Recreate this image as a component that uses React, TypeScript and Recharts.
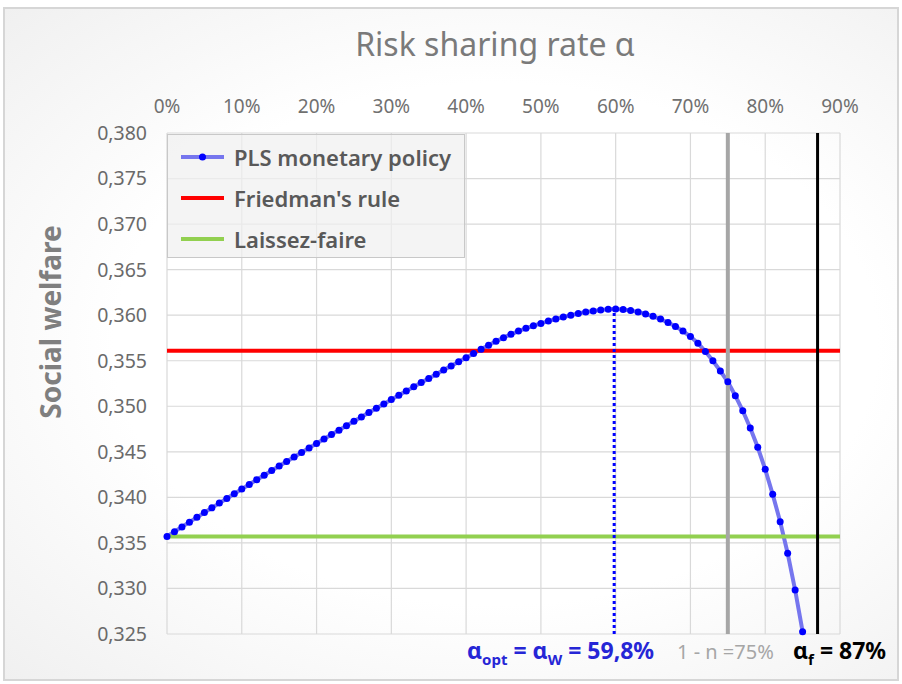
import React from 'react';
import { LineChart, Line, XAxis, YAxis, CartesianGrid, ReferenceLine, Legend } from 'recharts';

const FONT = '"Noto Sans", "Open Sans", sans-serif';

const xTicks = [0, 10, 20, 30, 40, 50, 60, 70, 80, 90];
const yTicks = [0.325, 0.33, 0.335, 0.34, 0.345, 0.35, 0.355, 0.36, 0.365, 0.37, 0.375, 0.38];

// PLS monetary policy social welfare, one value per 1% of alpha (0% .. 85%)
const plsWelfare = [
  0.3357, 0.33623, 0.33676, 0.33728, 0.33781, 0.33833, 0.33885, 0.33937, 0.33988, 0.3404,
  0.34091, 0.34142, 0.34193, 0.34243, 0.34294, 0.34344, 0.34394, 0.34444, 0.34493, 0.34543,
  0.34592, 0.34641, 0.3469, 0.34738, 0.34787, 0.34835, 0.34883, 0.34931, 0.34978, 0.35026,
  0.35073, 0.3512, 0.35167, 0.35213, 0.3526, 0.35306, 0.35352, 0.35398, 0.35443, 0.35489,
  0.35534, 0.35578, 0.35625, 0.3567, 0.35713, 0.35753, 0.3579, 0.35825, 0.35856, 0.35884,
  0.3591, 0.35935, 0.35958, 0.3598, 0.36, 0.36018, 0.36034, 0.36047, 0.36057, 0.36064,
  0.36067, 0.36062, 0.36052, 0.36036, 0.36013, 0.35988, 0.35957, 0.3592, 0.35877, 0.35826,
  0.35765, 0.35692, 0.35602, 0.355, 0.35387, 0.35268, 0.35116, 0.34951, 0.34761, 0.3455,
  0.34308, 0.34033, 0.33733, 0.33386, 0.32983, 0.32525,
];
const alphaGrid = [
  0, 1, 2, 3, 4, 5, 6, 7, 8, 9, 10, 11, 12, 13, 14, 15, 16, 17, 18, 19, 20, 21, 22, 23, 24, 25, 26, 27, 28, 29,
  30, 31, 32, 33, 34, 35, 36, 37, 38, 39, 40, 41, 42, 43, 44, 45, 46, 47, 48, 49, 50, 51, 52, 53, 54, 55, 56, 57, 58, 59,
  60, 61, 62, 63, 64, 65, 66, 67, 68, 69, 70, 71, 72, 73, 74, 75, 76, 77, 78, 79, 80, 81, 82, 83, 84, 85, 86, 87, 88, 89, 90,
];
const friedmanRule = 0.3561;
const laissezFaire = 0.3357;
const alphaOpt = 59.8;
const welfareAtOpt = 0.36067;
const oneMinusN = 75;
const alphaF = 87;

const data = alphaGrid.map((a, i) => ({
  alpha: a,
  pls: i < plsWelfare.length ? plsWelfare[i] : undefined,
  friedman: friedmanRule,
  laissez: laissezFaire,
}));

const legendRows = [
  { label: 'PLS monetary policy', color: '#7676ee', dot: true },
  { label: "Friedman's rule", color: '#ff0000', dot: false },
  { label: 'Laissez-faire', color: '#92d050', dot: false },
];

function LegendBox() {
  return (
    <div
      style={{
        width: 298,
        height: 124,
        boxSizing: 'border-box',
        border: '1.5px solid #c8c8c8',
        background: 'rgba(240,240,240,0.72)',
        fontFamily: FONT,
        paddingTop: 1,
      }}
    >
      {legendRows.map((r) => (
        <div key={r.label} style={{ height: 41, display: 'flex', alignItems: 'center' }}>
          <svg width={66} height={20} style={{ flex: 'none' }}>
            <line x1={13} x2={56} y1={10} y2={10} stroke={r.color} strokeWidth={4} />
            {r.dot ? <circle cx={34.5} cy={10} r={3.5} fill="#0000ff" /> : null}
          </svg>
          <span style={{ fontSize: 22, fontWeight: 600, color: '#595959', whiteSpace: 'nowrap' }}>{r.label}</span>
        </div>
      ))}
    </div>
  );
}

export default function App() {
  return (
    <div
      style={{
        position: 'absolute',
        left: 0,
        top: 0,
        width: 902,
        height: 684,
        background: '#ffffff',
        overflow: 'hidden',
      }}
    >
      <div
        style={{
          position: 'absolute',
          left: 3,
          top: 7,
          width: 896,
          height: 674,
          boxSizing: 'border-box',
          border: '2px solid #d6d6d6',
          background: 'radial-gradient(ellipse at 55% 50%, #ffffff 55%, #f0f0f0 100%)',
        }}
      />
      <div style={{ position: 'absolute', left: 0, top: 0 }}>
        <LineChart
          width={902}
          height={684}
          data={data}
          margin={{ top: 103, right: 62, bottom: 50, left: 87 }}
        >
          <CartesianGrid stroke="#d9d9d9" strokeWidth={1.2} />
          <XAxis
            dataKey="alpha"
            type="number"
            orientation="top"
            domain={[0, 90]}
            ticks={xTicks}
            height={30}
            tickLine={false}
            axisLine={false}
            tickMargin={14}
            tickFormatter={(v) => `${v}%`}
            tick={{ fill: '#707070', fontSize: 19, fontFamily: FONT }}
          />
          <YAxis
            type="number"
            domain={[0.325, 0.38]}
            ticks={yTicks}
            width={80}
            tickLine={false}
            axisLine={false}
            tickMargin={14}
            tickFormatter={(v) => v.toFixed(3).replace('.', ',')}
            tick={{ fill: '#6a6a6a', fontSize: 19.5, fontFamily: FONT }}
          />
          <Line
            dataKey="pls"
            name="PLS monetary policy"
            stroke="#7676ee"
            strokeWidth={4}
            dot={{ r: 3.5, fill: '#0000ff', stroke: 'none' }}
            isAnimationActive={false}
          />
          <Line
            dataKey="friedman"
            name="Friedman's rule"
            stroke="#ff0000"
            strokeWidth={4}
            dot={false}
            isAnimationActive={false}
          />
          <Line
            dataKey="laissez"
            name="Laissez-faire"
            stroke="#92d050"
            strokeWidth={4}
            dot={false}
            isAnimationActive={false}
          />
          <ReferenceLine
            segment={[
              { x: alphaOpt, y: 0.325 },
              { x: alphaOpt, y: welfareAtOpt },
            ]}
            stroke="#0000ff"
            strokeWidth={3}
            strokeDasharray="3 3"
          />
          <ReferenceLine x={oneMinusN} stroke="#a6a6a6" strokeWidth={4} />
          <ReferenceLine x={alphaF} stroke="#000000" strokeWidth={3} />
          <Legend
            layout="vertical"
            align="center"
            verticalAlign="middle"
            content={() => <LegendBox />}
            wrapperStyle={{ left: 167, top: 134, width: 298, height: 124 }}
          />
        </LineChart>
      </div>
      <div
        style={{
          position: 'absolute',
          left: 0,
          width: 990,
          top: 22,
          textAlign: 'center',
          fontFamily: FONT,
          fontSize: 32,
          color: '#7a7a7a',
          whiteSpace: 'nowrap',
        }}
      >
        Risk sharing rate α
      </div>
      <div
        style={{
          position: 'absolute',
          left: 50,
          top: 322,
          transform: 'translate(-50%, -50%) rotate(-90deg)',
          fontFamily: FONT,
          fontSize: 28,
          fontWeight: 700,
          color: '#7f7f7f',
          whiteSpace: 'nowrap',
        }}
      >
        Social welfare
      </div>
      <div
        style={{
          position: 'absolute',
          left: 467,
          top: 634,
          fontFamily: FONT,
          fontSize: 23,
          fontWeight: 700,
          color: '#2626d6',
          whiteSpace: 'nowrap',
        }}
      >
        α<sub style={{ fontSize: 15 }}>opt</sub> = α<sub style={{ fontSize: 15 }}>W</sub> = 59,8%
      </div>
      <div
        style={{
          position: 'absolute',
          left: 677,
          top: 638,
          fontFamily: FONT,
          fontSize: 20,
          color: '#a6a6a6',
          whiteSpace: 'nowrap',
        }}
      >
        1 - n =75%
      </div>
      <div
        style={{
          position: 'absolute',
          left: 793,
          top: 634,
          fontFamily: FONT,
          fontSize: 23,
          fontWeight: 700,
          color: '#000000',
          whiteSpace: 'nowrap',
        }}
      >
        α<sub style={{ fontSize: 15 }}>f</sub> = 87%
      </div>
    </div>
  );
}
